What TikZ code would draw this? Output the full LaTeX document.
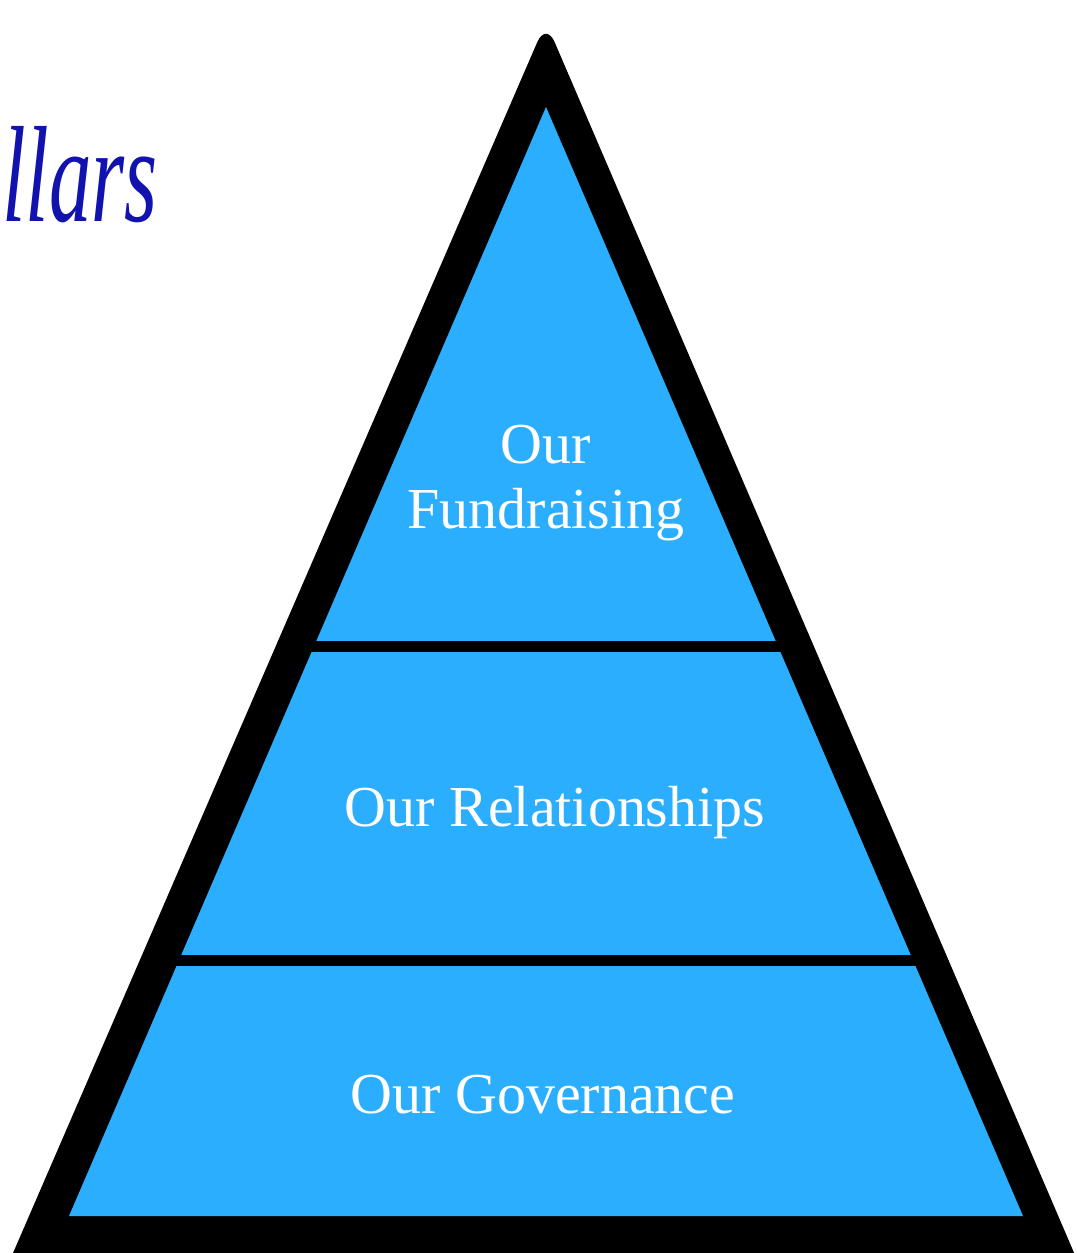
\documentclass[tikz,border=0pt]{standalone}
\usepackage{fontspec}
\setmainfont{Liberation Serif}
\definecolor{pyrblue}{HTML}{2BAEFE}
\definecolor{scriptblue}{HTML}{1212AE}
\tikzset{
  bandlabel/.style={text=white, font=\fontsize{33}{37}\selectfont, align=center, inner sep=0pt},
  sepline/.style={draw=black, line width=11*0.02cm},
}
\begin{document}
\begin{tikzpicture}[x=0.02cm,y=-0.02cm]
\useasboundingbox (0,0) rectangle (1077,1253);
\clip (0,0) rectangle (1077,1253);
% outer black triangle (only apex rounded, base below the frame)
\fill[black] (-3,1290) [rounded corners=22*0.02cm] -- (546,22) [sharp corners] -- (1090,1290) -- cycle;
% inner blue triangle (bottom cut)
\coordinate (apex) at (546,107);
\fill[pyrblue] (apex) -- (1023,1216) -- (69,1216) -- cycle;
% separators
\coordinate (s1l) at (290,646.5);
\coordinate (s1r) at (800,646.5);
\coordinate (s2l) at (150,960.5);
\coordinate (s2r) at (940,960.5);
\draw[sepline] (s1l) -- (s1r);
\draw[sepline] (s2l) -- (s2r);
% labels
\node[bandlabel] (fund) at (546,483) {Our\\Fundraising};
\node[bandlabel] (rel) at (555,813) {Our Relationships};
\node[bandlabel] (gov) at (543,1095) {Our Governance};
% partial title
\node[anchor=west, inner sep=0pt, text=scriptblue, xscale=0.62, font=\fontsize{78}{90}\itshape\selectfont] (title) at (2,175) {llars};
\end{tikzpicture}
\end{document}
